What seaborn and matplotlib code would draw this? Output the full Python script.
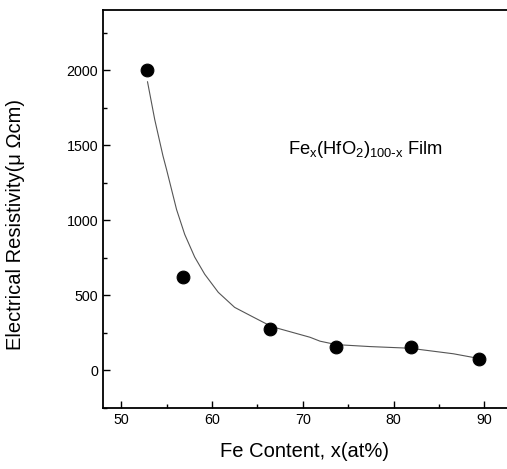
import matplotlib
matplotlib.use('Agg')
import matplotlib.pyplot as plt
import seaborn as sns
import pandas as pd
from matplotlib.ticker import MultipleLocator

# measured points
fe_content = [52.8, 56.8, 66.4, 73.7, 81.9, 89.4]
resistivity = [2000, 625, 276, 155, 153, 73]

# fitted curve
curve_x = [52.9, 53.7, 54.6, 55.0, 56.1, 57.0, 58.1, 59.2, 60.7, 62.5, 64.4,
           66.0, 66.4, 70.8, 71.9, 73.7, 77.4, 81.8, 86.6, 89.2]
curve_y = [1923, 1670, 1430, 1338, 1072, 906, 755, 641, 520, 420, 360,
           310, 295, 221, 195, 172, 159, 148, 111, 82]

df_pts = pd.DataFrame({'x': fe_content, 'y': resistivity})
df_fit = pd.DataFrame({'x': curve_x, 'y': curve_y})

sns.set_style('ticks')
plt.rcParams['font.family'] = ['Liberation Sans', 'DejaVu Sans']
plt.rcParams['text.color'] = 'black'
plt.rcParams['axes.labelcolor'] = 'black'

fig = plt.figure(figsize=(5.07, 4.69), dpi=100)
ax = fig.add_axes([103 / 507, 1 - 408 / 469, 1 - 103 / 507, 398 / 469])

sns.lineplot(data=df_fit, x='x', y='y', ax=ax, sort=False, color='#555555', linewidth=0.8)
sns.scatterplot(data=df_pts, x='x', y='y', ax=ax, color='black', s=85, edgecolor='black', zorder=3)

ax.set_xlim(48, 92.5)
ax.set_ylim(-250, 2400)
ax.xaxis.set_major_locator(MultipleLocator(10))
ax.xaxis.set_minor_locator(MultipleLocator(5))
ax.yaxis.set_major_locator(MultipleLocator(500))
ax.yaxis.set_minor_locator(MultipleLocator(250))
ax.tick_params(which='both', direction='in', colors='black', labelsize=10.3, width=1)
ax.tick_params(which='major', length=5)
ax.tick_params(which='minor', length=3)

for side in ['left', 'bottom', 'top']:
    ax.spines[side].set_color('black')
    ax.spines[side].set_linewidth(1.3)
ax.spines['right'].set_visible(False)

ax.set_xlabel('Fe Content, x(at%)', fontsize=14.5, labelpad=11)
ax.set_ylabel('Electrical Resistivity(\u03bc \u03a9cm)', fontsize=14.5)
ax.yaxis.set_label_coords(-0.193, 0.46)

ax.text(68.4, 1470,
        r'Fe$_\mathregular{x}$(HfO$_\mathregular{2}$)$_\mathregular{100\text{-}x}$ Film',
        fontsize=13.2, va='center', color='black')

plt.savefig('out.png', dpi=100)
plt.close()
